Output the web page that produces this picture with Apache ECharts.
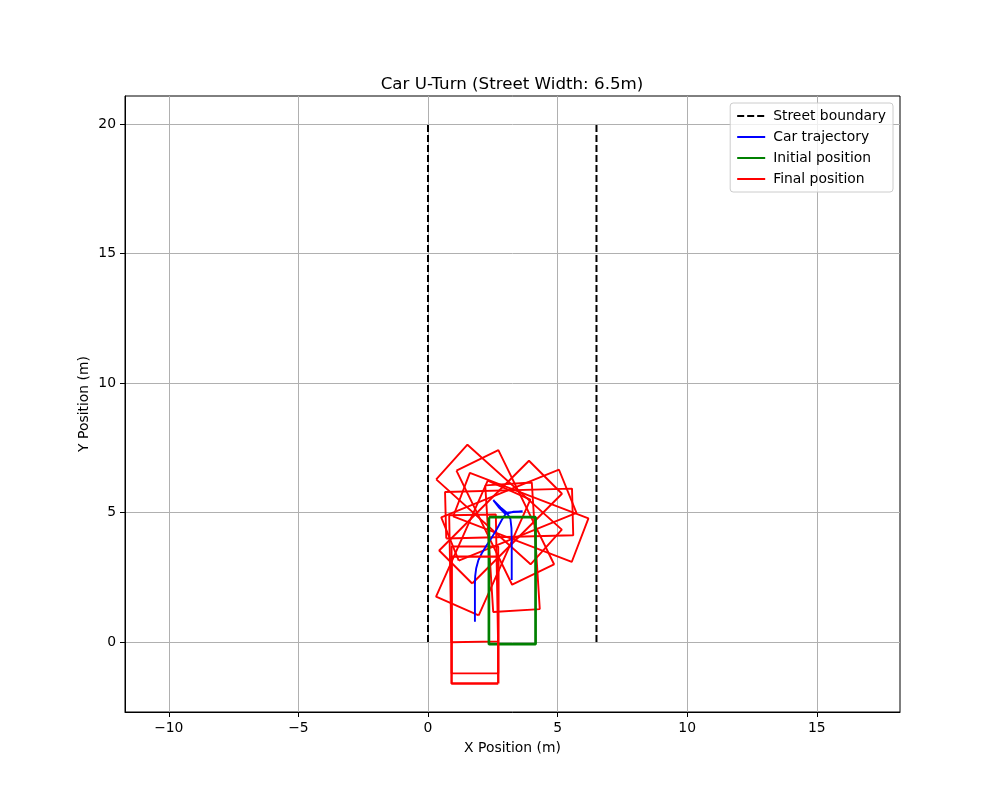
<!DOCTYPE html>
<html>
<head>
<meta charset="utf-8">
<title>Car U-Turn</title>
<script src="https://cdn.jsdelivr.net/npm/echarts@6/dist/echarts.min.js"></script>
<style>
    html, body { margin: 0; padding: 0; background: #fff; }
    #main { width: 1000px; height: 800px; }
</style>
</head>
<body>
<div id="main"></div>
<script>
// street edges (m)
var boundaryX = [0, 6.5];
var boundaryY = [0, 20];

// car footprint (m)
var carLength = 4.9;
var carWidth = 1.8;

// path of the car centre
var trajX = [3.23, 3.23, 3.23, 3.22, 3.18, 3.05, 2.80, 2.52, 2.75, 2.95, 3.30, 3.65, 3.30, 3.00,
             2.85, 2.65, 2.45, 2.25, 2.07, 1.94, 1.86, 1.82, 1.81, 1.81, 1.81];
var trajY = [2.40, 3.20, 3.90, 4.40, 4.75, 4.98, 5.20, 5.48, 5.18, 4.98, 5.02, 5.04, 5.03, 4.95,
             4.72, 4.35, 4.02, 3.72, 3.42, 3.15, 2.85, 2.55, 2.20, 1.50, 0.78];

// sampled poses: centre x, centre y, heading (deg). first = initial, last = final
var poseX = [3.25, 3.26, 2.98, 2.74, 3.58, 3.13, 3.12, 2.80, 2.13, 1.76, 1.81, 1.81];
var poseY = [2.37, 3.66, 4.81, 5.31, 4.81, 4.96, 4.90, 4.63, 3.63, 2.46, 1.24, 0.85];
var poseHeading = [90, 93.6, 116, 138, 159, 181.5, 202, 225, 246, 271, 270, 270];

var xTicks = [-10, -5, 0, 5, 10, 15];
var yTicks = [0, 5, 10, 15, 20];

var FONT = 'DejaVu Sans';

function carOutline(cx, cy, deg) {
    var a = deg * Math.PI / 180, c = Math.cos(a), s = Math.sin(a);
    var hl = carLength / 2, hw = carWidth / 2;
    var local = [[hl, hw], [hl, -hw], [-hl, -hw], [-hl, hw], [hl, hw]];
    return local.map(function (p) {
        return [cx + p[0] * c - p[1] * s, cy + p[0] * s + p[1] * c];
    });
}

function tickLabel(v) {
    return String(v).replace('-', '\u2212');
}

function lineSeries(name, color, width, dash, z, data) {
    return {
        name: name, type: 'line', symbol: 'none', showSymbol: false, z: z,
        itemStyle: { color: color },
        lineStyle: { color: color, width: width, type: dash || 'solid' },
        data: data
    };
}

var series = [];

boundaryX.forEach(function (bx) {
    series.push(lineSeries('Street boundary', '#000000', 2, [7, 3], 2,
        [[bx, boundaryY[0]], [bx, boundaryY[1]]]));
});

var last = poseX.length - 1;
for (var i = 1; i < last; i++) {
    series.push(lineSeries(null, '#ff0000', 1.9, null, 3,
        carOutline(poseX[i], poseY[i], poseHeading[i])));
}

series.push(lineSeries('Car trajectory', '#0000ff', 1.9, null, 4,
    trajX.map(function (x, k) { return [x, trajY[k]]; })));
series.push(lineSeries('Initial position', '#008000', 2.7, null, 5,
    carOutline(poseX[0], poseY[0], poseHeading[0])));
series.push(lineSeries('Final position', '#ff0000', 2.4, null, 5,
    carOutline(poseX[last], poseY[last], poseHeading[last])));

var chart = echarts.init(document.getElementById('main'));
chart.setOption({
    animation: false,
    backgroundColor: '#fff',
    textStyle: { fontFamily: FONT },
    title: {
        text: 'Car U-Turn (Street Width: 6.5m)',
        left: 507, top: 71, textAlign: 'center',
        textStyle: { fontFamily: FONT, fontSize: 16.7, fontWeight: 'normal', color: '#000' }
    },
    legend: {
        orient: 'vertical', right: 107, top: 103,
        data: ['Street boundary', 'Car trajectory', 'Initial position', 'Final position'],
        itemWidth: 28, itemHeight: 14, itemGap: 7,
        padding: [6, 7, 6, 6],
        itemStyle: { opacity: 0 },
        backgroundColor: 'rgba(255,255,255,0.8)',
        borderColor: '#cccccc', borderWidth: 1, borderRadius: 3,
        textStyle: { fontFamily: FONT, fontSize: 13.9, color: '#000', padding: [0, 0, 0, 3] }
    },
    grid: {
        left: 125, right: 100, top: 96, bottom: 88,
        show: true, borderColor: '#000', borderWidth: 1
    },
    xAxis: {
        type: 'value', min: -11.69, max: 18.21,
        name: 'X Position (m)', nameLocation: 'middle', nameGap: 29, nameMoveOverlap: false,
        nameTextStyle: { fontFamily: FONT, fontSize: 13.9, color: '#000' },
        axisLine: { show: true, onZero: false, lineStyle: { color: '#000' } },
        axisTick: { show: true, length: 5, customValues: xTicks, lineStyle: { color: '#000' } },
        axisLabel: { customValues: xTicks, formatter: tickLabel, margin: 9,
                     fontFamily: FONT, fontSize: 13.9, color: '#000' },
        splitLine: { show: true, lineStyle: { color: '#b0b0b0', width: 1 } }
    },
    yAxis: {
        type: 'value', min: -2.70, max: 21.08,
        name: 'Y Position (m)', nameLocation: 'middle', nameGap: 34, nameMoveOverlap: false,
        nameTextStyle: { fontFamily: FONT, fontSize: 13.9, color: '#000' },
        axisLine: { show: true, onZero: false, lineStyle: { color: '#000' } },
        axisTick: { show: true, length: 5, customValues: yTicks, lineStyle: { color: '#000' } },
        axisLabel: { customValues: yTicks, formatter: tickLabel, margin: 9,
                     fontFamily: FONT, fontSize: 13.9, color: '#000' },
        splitLine: { show: true, lineStyle: { color: '#b0b0b0', width: 1 } }
    },
    series: series
});
</script>
</body>
</html>
